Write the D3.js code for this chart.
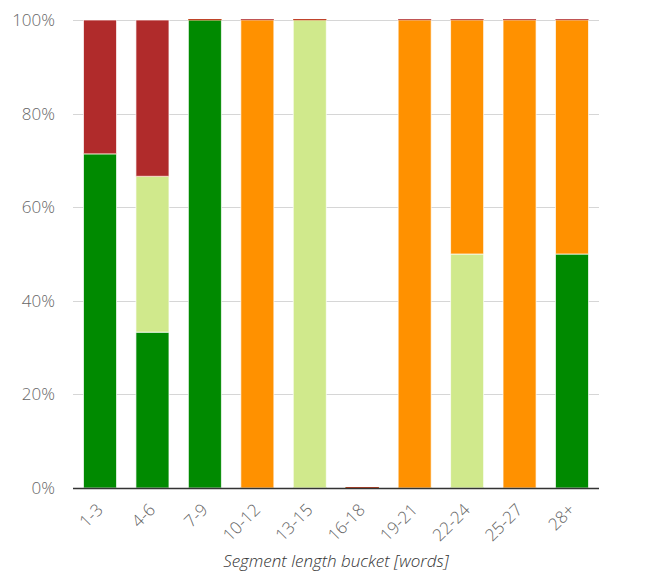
<!DOCTYPE html>
<html><head><meta charset="utf-8">
<script src="https://cdn.jsdelivr.net/npm/d3@7"></script>
<style>
html,body{margin:0;padding:0;background:#fff;}
svg{display:block;font-family:"Open Sans",sans-serif;}
</style></head>
<body>
<svg id="c" width="662" height="584"></svg>
<script>
const categories = ["1-3","4-6","7-9","10-12","13-15","16-18","19-21","22-24","25-27","28+"];
const seriesNames = ["good","ok","poor","bad"];
const seriesColors = ["#008a00","#d0e98c","#ff9100","#b02b2b"];
const good = [71.4, 33.3, 100, 0, 0, 0, 0, 0, 0, 50];
const ok   = [0, 33.3, 0, 0, 100, 0, 0, 50, 0, 0];
const poor = [0, 0, 0, 100, 0, 0, 100, 50, 100, 50];
const bad  = [28.6, 33.4, 0, 0, 0, 0, 0, 0, 0, 0];
const yTicks = [0, 20, 40, 60, 80, 100];
const xTitle = "Segment length bucket [words]";

const svg = d3.select("#c");
const m = {l:73, r:63, t:20, b:96};
const W = 662, H = 584;
const x = d3.scaleBand().domain(categories).range([m.l, W-m.r]).paddingInner(0.37).paddingOuter(0.2);
const y = d3.scaleLinear().domain([0,100]).range([H-m.b, m.t]);

// gridlines
svg.append("g").selectAll("line").data(yTicks.filter(d=>d>0)).join("line")
  .attr("x1", m.l).attr("x2", W-m.r)
  .attr("y1", d=>Math.round(y(d))+0.5).attr("y2", d=>Math.round(y(d))+0.5)
  .attr("stroke", "#d6d6d6").attr("stroke-width", 1);

// y labels
svg.append("g").selectAll("text").data(yTicks).join("text")
  .attr("x", 55).attr("y", d=>y(d)+6)
  .attr("text-anchor","end").attr("font-size", 17).attr("font-weight", 300)
  .attr("fill","#666").text(d=>d+"%");

const rows = categories.map((c,i)=>({cat:c, good:good[i], ok:ok[i], poor:poor[i], bad:bad[i]}));
const stacked = d3.stack().keys(seriesNames)(rows);

stacked.forEach((layer, si) => {
  const g = svg.append("g");
  layer.forEach((seg, i) => {
    const v = seg[1]-seg[0];
    const x0 = x(categories[i]);
    if (v > 0) {
      g.append("rect")
        .attr("x", x0).attr("width", x.bandwidth())
        .attr("y", y(seg[1])).attr("height", y(seg[0])-y(seg[1]))
        .attr("fill", seriesColors[si])
        .attr("stroke", "#fff").attr("stroke-opacity", 0.7).attr("stroke-width", 1);
    } else {
      g.append("rect")
        .attr("x", x0).attr("width", x.bandwidth())
        .attr("y", y(seg[1])-1).attr("height", 1.2)
        .attr("fill", seriesColors[si]).attr("opacity", 0.8);
    }
  });
});

// x axis line
svg.append("line").attr("x1", m.l).attr("x2", W-m.r)
  .attr("y1", y(0)+0.5).attr("y2", y(0)+0.5)
  .attr("stroke","#333").attr("stroke-width",1.5);

// x labels
svg.append("g").selectAll("text").data(categories).join("text")
  .attr("transform", d=>`translate(${x(d)+x.bandwidth()/2+4},${y(0)+23}) rotate(-45)`)
  .attr("text-anchor","end").attr("font-size", 17).attr("font-weight", 300)
  .attr("fill","#666").text(d=>d);

// x title
svg.append("text").attr("x", (m.l + W - m.r)/2).attr("y", 567)
  .attr("text-anchor","middle").attr("font-size", 17).attr("font-style","italic")
  .attr("font-weight", 300).attr("fill","#333").text(xTitle);
</script>
</body></html>
